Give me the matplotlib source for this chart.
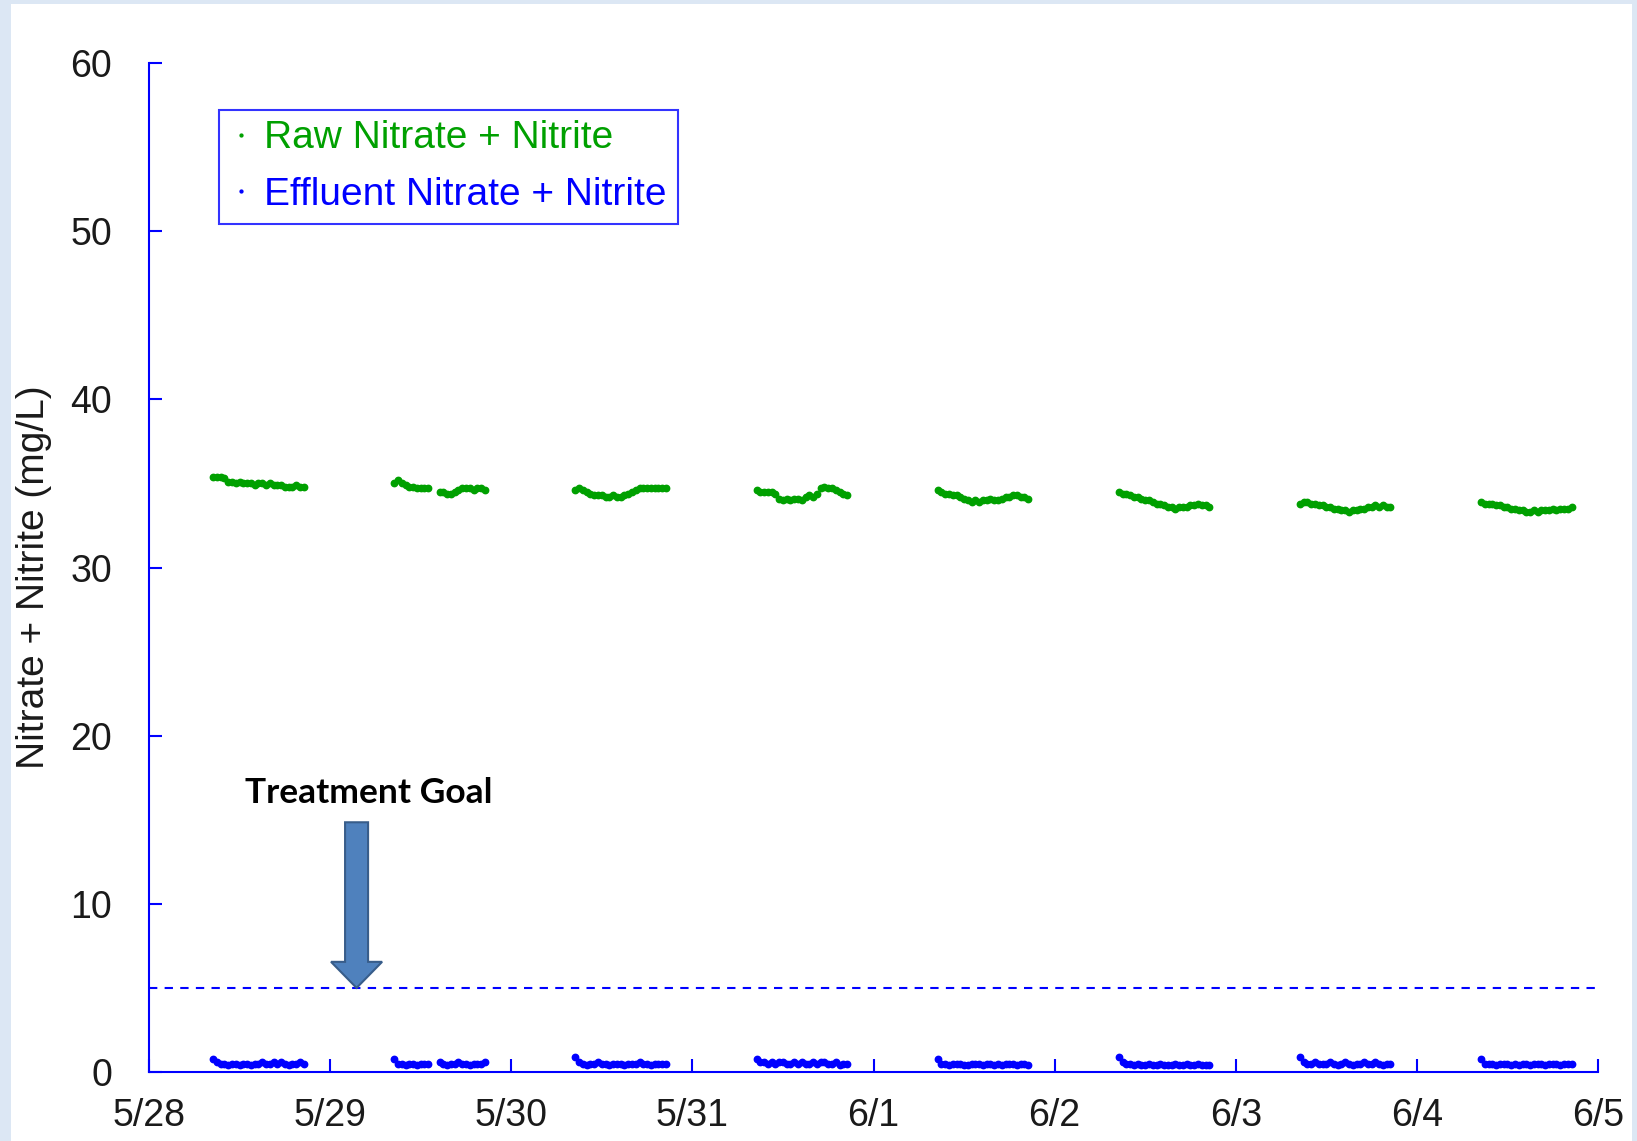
import numpy as np
import matplotlib.pyplot as plt
from matplotlib.patches import Rectangle

## Настройки для графиков
plt.rcParams['font.family'] = ['Liberation Sans', 'DejaVu Sans']
plt.rcParams['font.size'] = 27
plt.rcParams['xtick.direction'] = 'in'
plt.rcParams['ytick.direction'] = 'in'

# data: days since 5/28, sampling hours within each day
date_labels = ['5/28', '5/29', '5/30', '5/31', '6/1', '6/2', '6/3', '6/4', '6/5']
sample_hours = [8.5, 9.0, 9.5, 10.0, 10.5, 11.0, 11.5, 12.0, 12.5, 13.0, 13.5, 14.0,
                14.5, 15.0, 15.5, 16.0, 16.5, 17.0, 17.5, 18.0, 18.5, 19.0, 19.5, 20.0, 20.5]
nan = np.nan

raw_by_day = [
    [35.4, 35.4, 35.4, 35.3, 35.1, 35.1, 35.0, 35.1, 35.0, 35.0, 35.0, 34.9, 35.0,
     35.0, 34.9, 35.0, 34.9, 34.9, 34.9, 34.8, 34.8, 34.8, 34.9, 34.8, 34.8],
    [35.0, 35.2, 35.0, 34.9, 34.8, 34.8, 34.7, 34.7, 34.7, 34.7, nan, nan, 34.5,
     34.5, 34.4, 34.4, 34.5, 34.6, 34.7, 34.7, 34.7, 34.6, 34.7, 34.7, 34.6],
    [34.6, 34.7, 34.6, 34.5, 34.4, 34.3, 34.3, 34.3, 34.2, 34.2, 34.3, 34.2, 34.2,
     34.3, 34.4, 34.5, 34.6, 34.7, 34.7, 34.7, 34.7, 34.7, 34.7, 34.7, 34.7],
    [34.6, 34.5, 34.5, 34.5, 34.5, 34.4, 34.1, 34.0, 34.1, 34.0, 34.1, 34.1, 34.0,
     34.2, 34.3, 34.2, 34.4, 34.7, 34.8, 34.7, 34.7, 34.6, 34.5, 34.4, 34.3],
    [34.6, 34.5, 34.4, 34.4, 34.3, 34.3, 34.2, 34.1, 34.0, 33.9, 34.0, 33.9, 34.0,
     34.0, 34.1, 34.0, 34.0, 34.1, 34.2, 34.2, 34.3, 34.3, 34.2, 34.2, 34.1],
    [34.5, 34.4, 34.4, 34.3, 34.2, 34.2, 34.1, 34.0, 34.0, 33.9, 33.8, 33.8, 33.7,
     33.6, 33.6, 33.5, 33.6, 33.6, 33.6, 33.7, 33.7, 33.8, 33.7, 33.7, 33.6],
    [33.8, 33.9, 33.9, 33.8, 33.8, 33.7, 33.7, 33.6, 33.6, 33.5, 33.5, 33.4, 33.4,
     33.3, 33.4, 33.4, 33.5, 33.5, 33.6, 33.6, 33.7, 33.6, 33.7, 33.6, 33.6],
    [33.9, 33.8, 33.8, 33.8, 33.7, 33.7, 33.6, 33.6, 33.5, 33.5, 33.4, 33.4, 33.3,
     33.3, 33.4, 33.3, 33.4, 33.4, 33.4, 33.5, 33.4, 33.5, 33.5, 33.5, 33.6],
]

effluent_by_day = [
    [0.8, 0.6, 0.5, 0.5, 0.4, 0.5, 0.5, 0.4, 0.5, 0.5, 0.4, 0.5, 0.5,
     0.6, 0.5, 0.5, 0.6, 0.5, 0.6, 0.5, 0.4, 0.5, 0.5, 0.6, 0.5],
    [0.8, 0.5, 0.5, 0.4, 0.5, 0.5, 0.4, 0.5, 0.5, 0.5, nan, nan, 0.6,
     0.5, 0.4, 0.5, 0.5, 0.6, 0.5, 0.5, 0.4, 0.5, 0.5, 0.5, 0.6],
    [0.9, 0.6, 0.5, 0.4, 0.5, 0.5, 0.6, 0.5, 0.5, 0.4, 0.5, 0.5, 0.5,
     0.4, 0.5, 0.5, 0.5, 0.6, 0.5, 0.5, 0.4, 0.5, 0.5, 0.5, 0.5],
    [0.8, 0.6, 0.6, 0.5, 0.6, 0.5, 0.6, 0.6, 0.5, 0.5, 0.6, 0.5, 0.6,
     0.5, 0.5, 0.6, 0.5, 0.6, 0.6, 0.5, 0.5, 0.6, 0.4, 0.5, 0.5],
    [0.8, 0.5, 0.5, 0.4, 0.5, 0.5, 0.5, 0.4, 0.4, 0.5, 0.5, 0.5, 0.4,
     0.5, 0.5, 0.4, 0.5, 0.4, 0.5, 0.5, 0.5, 0.4, 0.5, 0.5, 0.4],
    [0.9, 0.6, 0.5, 0.5, 0.4, 0.5, 0.4, 0.4, 0.5, 0.4, 0.4, 0.5, 0.4,
     0.4, 0.4, 0.5, 0.4, 0.4, 0.5, 0.4, 0.4, 0.5, 0.4, 0.4, 0.4],
    [0.9, 0.6, 0.5, 0.5, 0.6, 0.5, 0.5, 0.5, 0.6, 0.5, 0.4, 0.5, 0.6,
     0.5, 0.4, 0.5, 0.5, 0.6, 0.5, 0.5, 0.6, 0.5, 0.4, 0.5, 0.5],
    [0.8, 0.5, 0.5, 0.5, 0.4, 0.5, 0.5, 0.5, 0.4, 0.5, 0.4, 0.5, 0.5,
     0.4, 0.5, 0.5, 0.5, 0.4, 0.5, 0.5, 0.5, 0.4, 0.5, 0.5, 0.5],
]

treatment_goal = 5

green = '#00a000'
blue = '#0000ff'

# flatten to time axis (days since 5/28)
t = np.concatenate([d + np.array(sample_hours) / 24 for d in range(len(raw_by_day))])
raw = np.concatenate(raw_by_day)
eff = np.concatenate(effluent_by_day)

fig = plt.figure(figsize=(16.37, 11.41), dpi=100, facecolor='#dce7f4')
# white slide area
fig.patches.append(Rectangle((11 / 1637, 0), 1621 / 1637, 1137 / 1141,
                             transform=fig.transFigure, facecolor='white',
                             edgecolor='none', zorder=-5))
ax = fig.add_axes([149 / 1637, 69 / 1141, 1449 / 1637, 1009 / 1141])
ax.set_facecolor('none')
ax.set_zorder(2)

ax.plot(t, raw, 'o', color=green, ms=4.6, label='Raw Nitrate + Nitrite')
ax.plot(t, eff, 'o', color=blue, ms=4.6, label='Effluent Nitrate + Nitrite')

# treatment goal
ax.axhline(treatment_goal, color=blue, lw=1.5, dashes=(4, 3.5))
ax.arrow(1.146, 14.85, 0, -(14.85 - treatment_goal), width=0.127, head_width=0.282,
         head_length=1.55, length_includes_head=True,
         facecolor='#4f81bd', edgecolor='#385d8a', lw=1.5, zorder=3)
ax.text(0.53, 16.0, 'Treatment Goal', fontsize=25.5, fontweight='bold',
        family=['Lato', 'DejaVu Sans'], color='black', va='baseline', ha='left')

# оси
ax.set_xlim(0, 8)
ax.set_ylim(0, 60)
ax.set_xticks(range(len(date_labels)))
ax.set_xticklabels(date_labels)
ax.set_yticks(range(0, 61, 10))
for side in ['top', 'right']:
    ax.spines[side].set_visible(False)
for side in ['left', 'bottom']:
    ax.spines[side].set_color(blue)
    ax.spines[side].set_linewidth(1.5)
ax.tick_params(axis='both', colors=blue, labelcolor='#1a1a1a', length=9.5, width=1.5)
ax.tick_params(axis='y', pad=26.6)
ax.tick_params(axis='x', pad=19)
ax.set_ylabel('Nitrate + Nitrite (mg/L)', color='#1a1a1a', fontsize=28)
ax.yaxis.set_label_coords(-0.0668, 0.490)

# Легенда
leg = ax.legend(loc='upper left', bbox_to_anchor=(70 / 1449, 1 - 47 / 1009),
                frameon=True, fancybox=False, markerscale=0.45, handlelength=0.6,
                handletextpad=0.3, labelspacing=0.53, borderpad=0.27,
                borderaxespad=0, fontsize=28)
leg.get_frame().set_edgecolor(blue)
leg.get_frame().set_linewidth(1.5)
for txt, c in zip(leg.get_texts(), [green, blue]):
    txt.set_color(c)

plt.savefig('out.png', dpi=100, facecolor=fig.get_facecolor())
